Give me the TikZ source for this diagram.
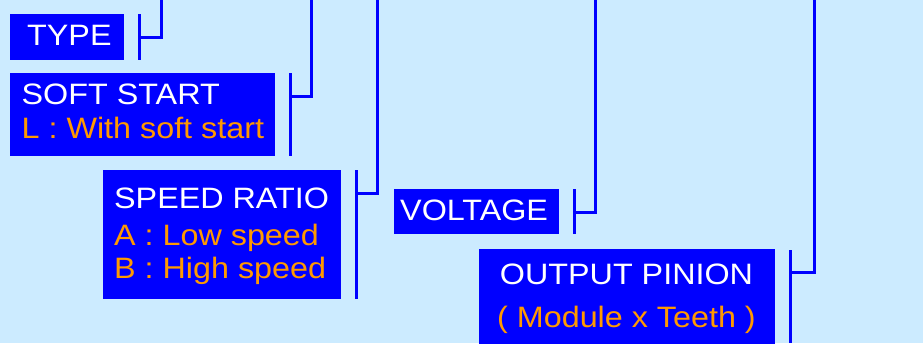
\documentclass[tikz,border=0pt]{standalone}
\usepackage{fontspec}
\setmainfont{Liberation Sans}[FakeStretch=1.095]
\definecolor{bgc}{RGB}{204,235,255}
\definecolor{boxc}{RGB}{0,0,255}
\definecolor{orc}{RGB}{255,153,0}
\begin{document}
\begin{tikzpicture}[x=1pt,y=-1pt,
  boxnode/.style={rectangle,fill=boxc,draw=none,inner sep=0pt,outer sep=0pt,anchor=north west},
  wtext/.style={text=white,inner sep=0pt,font=\fontsize{29.5}{34}\selectfont},
  otext/.style={text=orc,inner sep=0pt,font=\fontsize{29.5}{34}\selectfont},
  conn/.style={draw=boxc,line width=3pt}]
\fill[bgc] (0,0) rectangle (923,343);
\useasboundingbox (0,0) rectangle (923,343);
% boxes
\node[boxnode,minimum width=114pt,minimum height=46pt] (type) at (10,14) {};
\node[boxnode,minimum width=265pt,minimum height=82.7pt] (soft) at (10,73) {};
\node[boxnode,minimum width=237.7pt,minimum height=129pt] (speed) at (103,170) {};
\node[boxnode,minimum width=165pt,minimum height=45.3pt] (volt) at (394,189) {};
\node[boxnode,minimum width=295.7pt,minimum height=100pt] (pinion) at (479,249) {};
% texts
\node[wtext,anchor=base west] (t1) at (27,45) {TYPE};
\node[wtext,anchor=base west] (t2) at (21.5,104.3) {SOFT START};
\node[otext,anchor=base west] (t3) at (21.5,138.3) {L : With soft start};
\node[wtext,anchor=base west] (t4) at (114,208.3) {SPEED RATIO};
\node[otext,anchor=base west] (t5) at (114,245) {A : Low speed};
\node[otext,anchor=base west] (t6) at (114,278.3) {B : High speed};
\node[wtext,anchor=base west] (t7) at (400,220) {VOLTAGE};
\node[wtext,anchor=base] (t8) at (626.5,284.3) {OUTPUT PINION};
\node[otext,anchor=base] (t9) at (626.5,327.7) {( Module x Teeth )};
% brackets
\coordinate (a1) at (139.3,14); \coordinate (a2) at (139.3,60);
\coordinate (a3) at (139.3,37.7); \coordinate (a4) at (161,37.7); \coordinate (a5) at (161,0);
\coordinate (b1) at (290,73); \coordinate (b2) at (290,155.7);
\coordinate (b3) at (290,96.7); \coordinate (b4) at (311.7,96.7); \coordinate (b5) at (311.7,0);
\coordinate (c1) at (356.7,170); \coordinate (c2) at (356.7,299);
\coordinate (c3) at (356.7,193.3); \coordinate (c4) at (377.7,193.3); \coordinate (c5) at (377.7,0);
\coordinate (d1) at (574,189); \coordinate (d2) at (574,234.3);
\coordinate (d3) at (574,212.3); \coordinate (d4) at (595,212.3); \coordinate (d5) at (595,0);
\coordinate (e1) at (790,250); \coordinate (e2) at (790,343);
\coordinate (e3) at (790,272.7); \coordinate (e4) at (814,272.7); \coordinate (e5) at (814,0);
\draw[conn] (a1) -- (a2); \draw[conn] (a3) -- (a4) -- (a5);
\draw[conn] (b1) -- (b2); \draw[conn] (b3) -- (b4) -- (b5);
\draw[conn] (c1) -- (c2); \draw[conn] (c3) -- (c4) -- (c5);
\draw[conn] (d1) -- (d2); \draw[conn] (d3) -- (d4) -- (d5);
\draw[conn] (e1) -- (e2); \draw[conn] (e3) -- (e4) -- (e5);
\end{tikzpicture}
\end{document}
